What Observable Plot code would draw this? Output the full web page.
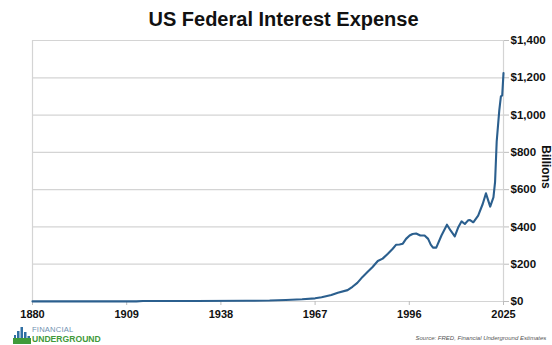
<!DOCTYPE html>
<html>
<head>
<meta charset="utf-8">
<script src="https://cdn.jsdelivr.net/npm/d3@7"></script>
<script src="https://cdn.jsdelivr.net/npm/@observablehq/plot@0.6"></script>
<style>
  html, body { margin: 0; padding: 0; background: #fff; }
  #wrap { position: relative; width: 552px; height: 345px; overflow: hidden; font-family: "Liberation Sans", Arial, sans-serif; }
  #chart { position: absolute; left: 0; top: 0; }
  #logo { position: absolute; left: 13px; top: 326px; width: 100px; height: 19px; }
  #logo .fin { position: absolute; left: 19px; top: 0px; font-size: 7.6px; letter-spacing: 0.2px; color: #6f8fb0; line-height: 8px; }
  #logo .und { position: absolute; left: 19px; top: 8.5px; font-size: 8.6px; font-weight: bold; color: #3f9a3a; line-height: 9px; }
</style>
</head>
<body>
<div id="wrap">
  <div id="chart"></div>
  <div id="logo">
    <svg width="18" height="18" viewBox="0 0 18 18" style="position:absolute;left:0;top:0">
      <rect x="1" y="9" width="2" height="9" fill="#2f6fa3"/>
      <rect x="4" y="5" width="2.5" height="13" fill="#2f6fa3"/>
      <rect x="7.5" y="1" width="2.5" height="17" fill="#2f6fa3"/>
      <rect x="11" y="6" width="2.5" height="12" fill="#2f6fa3"/>
      <rect x="14.5" y="10" width="2.5" height="8" fill="#2f6fa3"/>
      <rect x="0" y="12" width="18" height="6" fill="#3f9a3a"/>
    </svg>
    <div class="fin">FINANCIAL</div>
    <div class="und">UNDERGROUND</div>
  </div>
</div>
<script>
// ---- data ----
const years = [1880, 1900, 1912, 1914, 1930, 1946, 1953, 1958, 1963, 1967, 1969, 1972, 1974, 1977, 1978.5, 1980, 1981.6, 1983.2, 1984.7, 1986.3, 1987.8, 1989.4, 1990.9, 1991.9, 1993, 1994, 1995, 1996.1, 1997, 1998.1, 1999.4, 2000.7, 2001.8, 2002.6, 2003.3, 2004.3, 2005.9, 2007.6, 2008.7, 2010, 2011, 2012.1, 2013.1, 2014.1, 2014.7, 2015.7, 2017.2, 2018.6, 2019.6, 2020.9, 2021.9, 2022.4, 2022.9, 2023.7, 2024.2, 2024.6, 2025];
const interest = [0.5, 0.5, 0.5, 3, 3, 4, 5, 8, 12, 17, 23, 35, 47, 61, 79, 100, 132, 159, 185, 217, 230, 256, 283, 304, 306, 310, 336, 354, 362, 365, 354, 354, 336, 305, 289, 289, 354, 412, 381, 349, 395, 430, 416, 435, 437, 425, 461, 523, 580, 509, 558, 640, 857, 1025, 1100, 1105, 1225];
const xTicks = [1880, 1909, 1938, 1967, 1996, 2025];
const yTicks = [0, 200, 400, 600, 800, 1000, 1200, 1400];
const title = "US Federal Interest Expense";
const yLabel = "Billions";
const source = "Source: FRED, Financial Underground Estimates";

const data = years.map((y, i) => ({year: y, value: interest[i]}));

const chart = Plot.plot({
  width: 552,
  height: 345,
  marginLeft: 32,
  marginRight: 49,
  marginTop: 40,
  marginBottom: 44,
  style: {fontFamily: "Liberation Sans, Arial, sans-serif", background: "#fff", color: "#111"},
  x: {domain: [1880, 2025]},
  y: {domain: [0, 1400]},
  marks: [
    Plot.ruleY(yTicks, {stroke: "#d4d4d4", strokeWidth: 1.2}),
    Plot.ruleX([1880, 2025], {stroke: "#d4d4d4", strokeWidth: 1.2}),
    Plot.axisX({ticks: xTicks, tickFormat: d3.format("d"), tickSize: 4, tickPadding: 5, stroke: "#bdbdbd", fill: "#111", fontSize: 11, fontWeight: "bold", label: null}),
    Plot.axisY({anchor: "right", ticks: yTicks, tickFormat: d3.format("$,"), tickSize: 5, tickPadding: 2, stroke: "#bdbdbd", fill: "#111", fontSize: 11.5, fontWeight: "bold", label: null}),
    Plot.line(data, {x: "year", y: "value", stroke: "#2b5f8e", strokeWidth: 2.1, curve: "linear"}),
    Plot.text([title], {frameAnchor: "top", dx: 15.5, dy: -15, lineAnchor: "bottom", textAnchor: "middle", fontSize: 20, fontWeight: "bold", fill: "#111"}),
    Plot.text([yLabel], {frameAnchor: "right", dx: 38, dy: -4, rotate: 90, lineAnchor: "bottom", textAnchor: "middle", fontSize: 12, fontWeight: "bold", fill: "#111"}),
    Plot.text([source], {frameAnchor: "bottom-right", dx: -88, dy: 38, lineAnchor: "bottom", textAnchor: "start", fontSize: 6, fontStyle: "italic", fill: "#555"})
  ]
});
document.getElementById("chart").appendChild(chart);
</script>
</body>
</html>
